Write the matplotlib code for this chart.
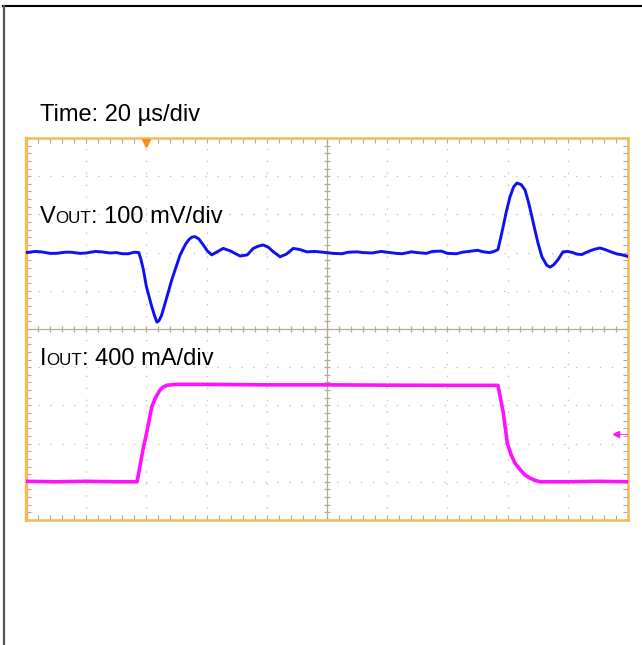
import numpy as np
import matplotlib
matplotlib.use("Agg")
import matplotlib.pyplot as plt
from matplotlib.lines import Line2D
from matplotlib.collections import LineCollection

# ---------------- data ----------------
time_per_div_us = 20
vout_mv_per_div = 100
iout_ma_per_div = 400
vout_offset_div = 2.0
iout_offset_div = -4.0
trigger_time_us = 0.0
trigger_level_ma = 500
t_start_us = -40
n_div_x = 10
n_div_y = 10

vout_t_us = [-40, -37, -35, -32, -30, -27, -25, -22, -20, -17,
             -15, -12, -10, -8, -6, -4, -2.5, -1.8, -1, 0,
             1.8, 2.7, 3.5, 4.2, 5, 6.2, 8.4, 11.2, 13, 14,
             15, 16.1, 17.4, 18.9, 20.3, 21.7, 23.5, 25.5, 28, 31.1,
             33.5, 35.5, 37.2, 38.8, 40.5, 42.2, 44.4, 46.5, 48.8, 51,
             53.3, 56, 59.9, 62, 65, 67, 70, 72, 75, 78,
             80, 83, 85, 88, 90, 93, 95, 98, 100, 103,
             105, 108, 110, 112, 114, 115.8, 116.8, 117.6, 118.5, 119.6,
             120.8, 122, 123.1, 124.5, 125.8, 127, 128.1, 129.2, 130.1, 131.4,
             133, 134.1, 135.3, 136.7, 138.4, 140, 141.7, 143, 144.7, 146,
             147.5, 149, 150.7, 152, 153, 155, 156.5, 157.5, 159, 160]
vout_mv = [0, 3, 2, -2, -2, 1, 1, -2, -1, 3,
           2, -1, 0, -3, -3, 1, 0, -18, -45, -89,
           -142, -165, -182, -178, -165, -133, -72, -6, 22, 33,
           40, 42, 36, 20, 4, -6, 2, 11, 4, -9,
           -6, 11, 17, 20, 14, 2, -11, -4, 11, 8,
           2, 3, 0, -2, -3, 1, 2, 0, -1, 3,
           1, -2, -3, 2, 0, -2, 3, 4, -2, -3,
           1, 4, 6, 2, 0, 4, 8, 35, 67, 108,
           146, 172, 182, 178, 164, 130, 93, 55, 25, -11,
           -33, -38, -32, -19, 2, 3, 0, -4, -5, 0,
           5, 9, 12, 9, 6, 0, -4, -5, -8, -10]

iout_t_us = [-40, -30, -20, -10, -3.1, -1.0, 0, 1.8, 2.5, 3,
             4.5, 5.5, 6.7, 8, 10, 20, 40, 60, 80, 100,
             116.8, 118.6, 119.9, 121.2, 122.5, 124.1, 125.8, 127.4, 129.1, 130.8,
             140, 150, 160]
iout_ma = [5, 0, 5, 0, 0, 360, 500, 787, 840, 880,
           960, 990, 1010, 1015, 1020, 1020, 1015, 1015, 1012, 1010,
           1010, 717, 403, 280, 194, 130, 71, 40, 15, 0,
           0, 5, 0]

label_time = "Time: 20 µs/div"
label_vout = [("V", 1.0), ("OUT", 0.72), (": 100 mV/div", 1.0)]
label_iout = [("I", 1.0), ("OUT", 0.72), (": 400 mA/div", 1.0)]

# ---------------- style ----------------
W, H = 642, 645
FONT = "Liberation Sans"
FS = 17
plt.rcParams['font.family'] = [FONT, 'DejaVu Sans']

fig = plt.figure(figsize=(W / 100, H / 100), dpi=100)
ax_l, ax_r, ax_t, ax_b = 26, 628, 138, 520
ax = fig.add_axes([ax_l / W, 1 - ax_b / H, (ax_r - ax_l) / W, (ax_b - ax_t) / H])

x0, x1 = t_start_us, t_start_us + n_div_x * time_per_div_us
xc = (x0 + x1) / 2
ax.set_xlim(x0, x1)
ax.set_ylim(-n_div_y / 2, n_div_y / 2)

# dotted grid
grid_col = '#c4c4c4'
for i in range(1, n_div_x):
    if i == n_div_x // 2:
        continue
    ax.axvline(x0 + i * time_per_div_us, color=grid_col, lw=1.0,
               linestyle=(0, (1, 7.6)), zorder=1)
for i in range(1, n_div_y):
    if i == n_div_y // 2:
        continue
    ax.axhline(-n_div_y / 2 + i, color=grid_col, lw=1.0,
               linestyle=(0, (1, 7.6)), zorder=1)

# center lines with minor ticks
cl_col = '#b3ab95'
ax.axvline(xc, color=cl_col, lw=0.9, zorder=1)
ax.axhline(0, color=cl_col, lw=0.9, zorder=1)
segs = []
for xm in np.arange(x0, x1 + 1e-9, time_per_div_us / 5):
    segs.append([(xm, -0.08), (xm, 0.08)])
for ym in np.arange(-n_div_y / 2, n_div_y / 2 + 1e-9, 0.2):
    segs.append([(xc - 1.0, ym), (xc + 1.0, ym)])
ax.add_collection(LineCollection(segs, colors=cl_col, linewidths=0.9, zorder=1))

# border ticks
ax.set_xticks(np.arange(x0, x1 + 1e-9, time_per_div_us / 5))
ax.set_yticks(np.arange(-n_div_y / 2, n_div_y / 2 + 1e-9, 0.2))
ax.tick_params(axis='both', which='both', direction='in', length=3.5, width=0.8,
               color='#a8a8a8', top=True, right=True,
               labelbottom=False, labelleft=False)

for s in ax.spines.values():
    s.set_color('#f7b955')
    s.set_linewidth(1.8)
ax.spines['left'].set_linewidth(2.4)

# traces
vt = np.array(vout_t_us)
vy = vout_offset_div + np.array(vout_mv) / vout_mv_per_div
it = np.array(iout_t_us)
iy = iout_offset_div + np.array(iout_ma) / iout_ma_per_div
ax.plot(vt, vy, color='#1010f0', lw=2.1, zorder=3, solid_joinstyle='round')
ax.plot(it, iy, color='#ff10ff', lw=2.6, zorder=3, solid_joinstyle='round')

# trigger markers
ax.plot([trigger_time_us], [n_div_y / 2 - 0.12], marker='v', color='#ff8c1a',
        ms=6, zorder=4, clip_on=False)
trig_y = iout_offset_div + trigger_level_ma / iout_ma_per_div
ax.plot([x1 - 4, x1], [trig_y, trig_y], color='#ff40ff', lw=0.8, zorder=4)
ax.plot([x1 - 4], [trig_y], marker='<', color='#ff10ff', ms=4.5, zorder=4)

# texts
fig.text(40 / W, 1 - 121 / H, label_time, fontsize=FS, va='baseline', ha='left')

renderer = fig.canvas.get_renderer()


def rich(x_px, y_px, parts):
    x = x_px
    for s, scale in parts:
        t = fig.text(x / W, 1 - y_px / H, s, fontsize=FS * scale,
                     va='baseline', ha='left', zorder=5)
        bb = t.get_window_extent(renderer)
        x += bb.width


rich(40, 223, label_vout)
rich(40, 365, label_iout)

# outer frame lines
fig.add_artist(Line2D([3 / W, 1], [1 - 6 / H, 1 - 6 / H], color='black', lw=1.5,
                      transform=fig.transFigure))
fig.add_artist(Line2D([4 / W, 4 / W], [0, 1 - 6 / H], color='#555555', lw=1.6,
                      transform=fig.transFigure))

fig.savefig('out.png', dpi=100)
